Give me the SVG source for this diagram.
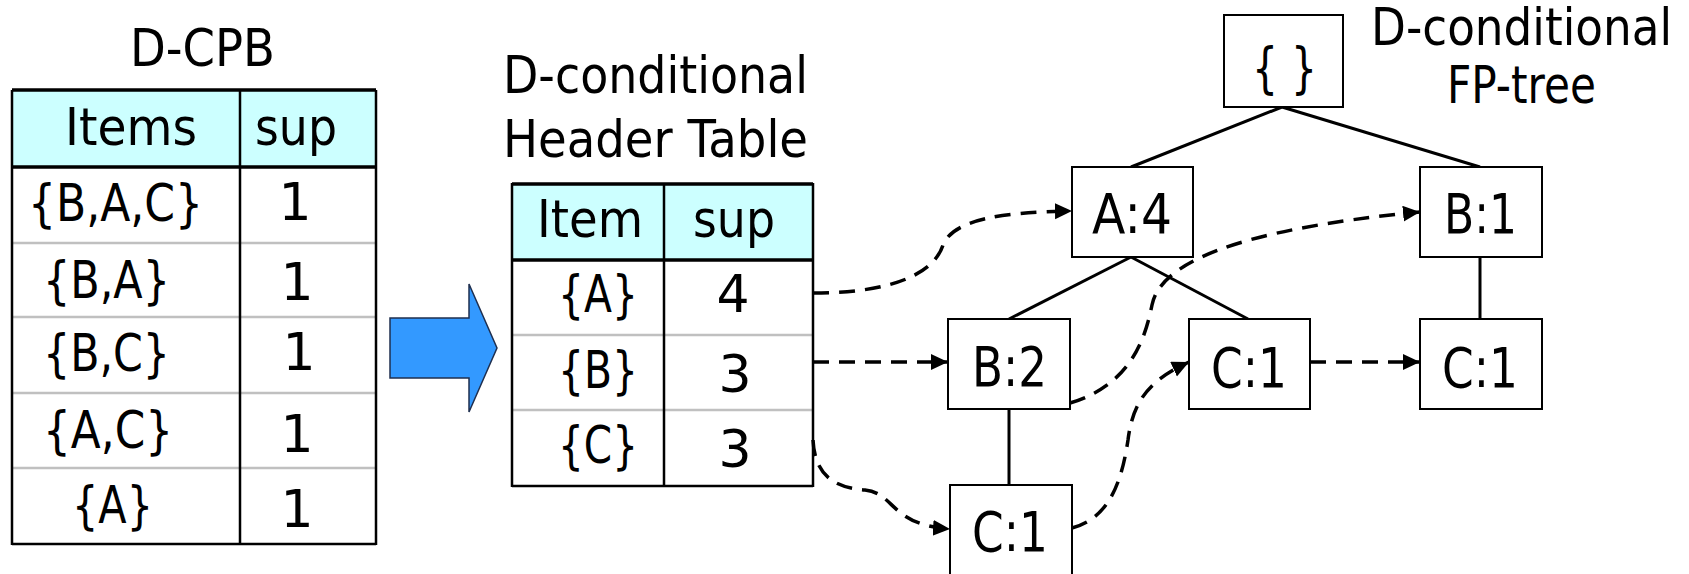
<svg xmlns="http://www.w3.org/2000/svg" width="1689" height="574" viewBox="0 0 1689 574">
<style>
text{font-family:"DejaVu Sans","Verdana",sans-serif;fill:#000}
.t{font-size:52px}
.n{font-size:55px}
.hdr{fill:#CCFFFF;stroke:none}
.bd{stroke:#000;stroke-width:2.5;fill:none}
.thk{stroke:#000;stroke-width:3.5;fill:none}
.gr{stroke:#C0C0C0;stroke-width:2.5;fill:none}
.box{fill:#fff;stroke:#000;stroke-width:2}
.edge{stroke:#000;stroke-width:3;fill:none}
.dash{stroke:#000;stroke-width:3.5;fill:none;stroke-dasharray:16 10}
</style>
<defs>
<marker id="ah" markerUnits="userSpaceOnUse" markerWidth="18" markerHeight="18" refX="17" refY="8" orient="auto">
<path d="M0,0 L17,8 L0,16 z" fill="#000"/>
</marker>
</defs>

<g id="dcpb-table">
<text class="t" x="130" y="66" font-size="50" textLength="145" lengthAdjust="spacingAndGlyphs">D-CPB</text>
<rect class="hdr" x="12" y="90" width="364" height="77"/>
<line class="gr" x1="12" y1="243" x2="376" y2="243"/>
<line class="gr" x1="12" y1="317" x2="376" y2="317"/>
<line class="gr" x1="12" y1="393" x2="376" y2="393"/>
<line class="gr" x1="12" y1="468" x2="376" y2="468"/>
<line class="thk" x1="12" y1="90" x2="376" y2="90"/>
<line class="thk" x1="12" y1="167" x2="376" y2="167"/>
<line class="bd" x1="12" y1="90" x2="12" y2="545"/>
<line class="bd" x1="376" y1="90" x2="376" y2="545"/>
<line class="bd" x1="240" y1="90" x2="240" y2="545"/>
<line class="bd" x1="12" y1="544" x2="376" y2="544"/>
<text class="t" x="65" y="145" textLength="132" lengthAdjust="spacingAndGlyphs">Items</text>
<text class="t" x="255" y="145" textLength="82" lengthAdjust="spacingAndGlyphs">sup</text>
<text class="t" x="28" y="221" font-size="54" textLength="175" lengthAdjust="spacingAndGlyphs">{B,A,C}</text>
<text class="t" x="43" y="298" font-size="54" textLength="127" lengthAdjust="spacingAndGlyphs">{B,A}</text>
<text class="t" x="43" y="371" font-size="54" textLength="127" lengthAdjust="spacingAndGlyphs">{B,C}</text>
<text class="t" x="43" y="448" font-size="54" textLength="130" lengthAdjust="spacingAndGlyphs">{A,C}</text>
<text class="t" x="72" y="523" font-size="54" textLength="81" lengthAdjust="spacingAndGlyphs">{A}</text>
<text class="t" x="295" y="220" text-anchor="middle">1</text>
<text class="t" x="297" y="300" text-anchor="middle">1</text>
<text class="t" x="299" y="370" text-anchor="middle">1</text>
<text class="t" x="297" y="452" text-anchor="middle">1</text>
<text class="t" x="297" y="527" text-anchor="middle">1</text>
</g>

<g id="big-arrow">
<polygon points="390,318 469,318 469,284 497,348 469,412 469,378 390,378" fill="#3399FF" stroke="#1F2F4F" stroke-width="1.5"/>
</g>

<g id="header-table">
<text class="t" x="503" y="93" textLength="305" lengthAdjust="spacingAndGlyphs">D-conditional</text>
<text class="t" x="503" y="157" textLength="305" lengthAdjust="spacingAndGlyphs">Header Table</text>
<rect class="hdr" x="512" y="183" width="301" height="77"/>
<line class="gr" x1="512" y1="335" x2="813" y2="335"/>
<line class="gr" x1="512" y1="410" x2="813" y2="410"/>
<line class="thk" x1="512" y1="184" x2="813" y2="184"/>
<line class="thk" x1="512" y1="260" x2="813" y2="260"/>
<line class="bd" x1="512" y1="183" x2="512" y2="487"/>
<line class="bd" x1="813" y1="183" x2="813" y2="487"/>
<line class="bd" x1="664" y1="183" x2="664" y2="487"/>
<line class="bd" x1="512" y1="486" x2="813" y2="486"/>
<text class="t" x="537" y="237" font-size="51" textLength="106" lengthAdjust="spacingAndGlyphs">Item</text>
<text class="t" x="693" y="237" font-size="51" textLength="82" lengthAdjust="spacingAndGlyphs">sup</text>
<text class="t" x="558" y="312" font-size="54" textLength="80" lengthAdjust="spacingAndGlyphs">{A}</text>
<text class="t" x="558" y="388" font-size="54" textLength="80" lengthAdjust="spacingAndGlyphs">{B}</text>
<text class="t" x="558" y="463" font-size="54" textLength="80" lengthAdjust="spacingAndGlyphs">{C}</text>
<text class="t" x="733" y="312" text-anchor="middle">4</text>
<text class="t" x="735" y="392" text-anchor="middle">3</text>
<text class="t" x="735" y="467" text-anchor="middle">3</text>
</g>

<g id="tree-title">
<text class="t" x="1371" y="45" font-size="51" textLength="301" lengthAdjust="spacingAndGlyphs">D-conditional</text>
<text class="t" x="1447" y="103" font-size="51" textLength="149" lengthAdjust="spacingAndGlyphs">FP-tree</text>
</g>

<g id="connectors">
<line class="edge" x1="1282" y1="107" x2="1131" y2="167"/>
<line class="edge" x1="1282" y1="107" x2="1480" y2="167"/>
<line class="edge" x1="1131" y1="257" x2="1009" y2="319"/>
<line class="edge" x1="1131" y1="257" x2="1248" y2="319"/>
<line class="edge" x1="1480" y1="257" x2="1480" y2="319"/>
<line class="edge" x1="1009" y1="409" x2="1009" y2="485"/>
<path class="dash" d="M813,293 C900,293 935,270 943,245 C953,220 1000,212 1072,211" marker-end="url(#ah)"/>
<path class="dash" d="M813,362 L948,362" marker-end="url(#ah)"/>
<path class="dash" d="M813,440 C815,480 840,488 865,490 C895,493 890,525 950,529" marker-end="url(#ah)"/>
<path class="dash" d="M1070,403 C1130,385 1145,340 1152,305 C1160,265 1230,230 1420,212" marker-end="url(#ah)"/>
<path class="dash" d="M1072,528 C1110,518 1122,480 1128,440 C1133,400 1150,380 1189,362" marker-end="url(#ah)"/>
<path class="dash" d="M1310,362 L1420,362" marker-end="url(#ah)"/>
</g>

<g id="node-root"><rect class="box" x="1224" y="15" width="119" height="92"/><text class="n" x="1252" y="87" font-size="59" textLength="65" lengthAdjust="spacingAndGlyphs">{ }</text></g>
<g id="node-a4"><rect class="box" x="1072" y="167" width="121" height="90"/><text class="n" x="1092" y="233" textLength="80" lengthAdjust="spacingAndGlyphs">A:4</text></g>
<g id="node-b1"><rect class="box" x="1420" y="167" width="122" height="90"/><text class="n" x="1444" y="233" textLength="73" lengthAdjust="spacingAndGlyphs">B:1</text></g>
<g id="node-b2"><rect class="box" x="948" y="319" width="122" height="90"/><text class="n" x="972" y="386" textLength="75" lengthAdjust="spacingAndGlyphs">B:2</text></g>
<g id="node-c1-mid"><rect class="box" x="1189" y="319" width="121" height="90"/><text class="n" x="1211" y="387" textLength="76" lengthAdjust="spacingAndGlyphs">C:1</text></g>
<g id="node-c1-right"><rect class="box" x="1420" y="319" width="122" height="90"/><text class="n" x="1442" y="387" textLength="76" lengthAdjust="spacingAndGlyphs">C:1</text></g>
<g id="node-c1-bottom"><rect class="box" x="950" y="485" width="122" height="100"/><text class="n" x="972" y="551" textLength="76" lengthAdjust="spacingAndGlyphs">C:1</text></g>
</svg>
